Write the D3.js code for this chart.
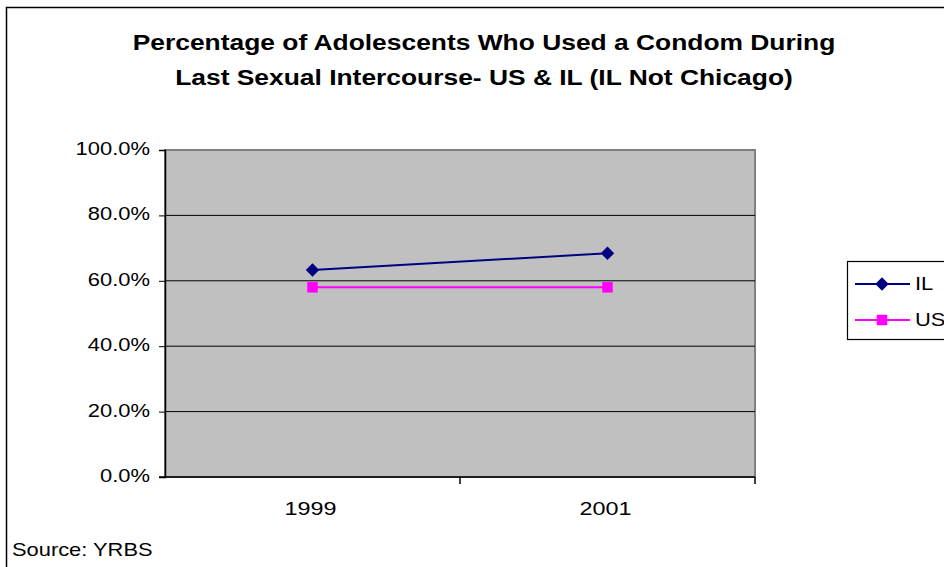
<!DOCTYPE html>
<html><head><meta charset="utf-8">
<script src="https://cdn.jsdelivr.net/npm/d3@7"></script>
<style>body{margin:0;background:#fff}svg{display:block}</style>
</head><body>
<script>
const years = ["1999", "2001"];
const ilValues = [63.3, 68.4];
const usValues = [58.0, 58.0];
const yTicks = [0, 20, 40, 60, 80, 100];
const titleLines = ["Percentage of Adolescents Who Used a Condom During", "Last Sexual Intercourse- US & IL (IL Not Chicago)"];

const W = 944, H = 567;
const svg = d3.select("body").append("svg").attr("width", W).attr("height", H);
const font = "'Liberation Sans', Arial, sans-serif";
const SX = 1.22;

// outer border
svg.append("rect").attr("x", 6.5).attr("y", 7.5).attr("width", 960).attr("height", 600)
  .attr("fill", "#fff").attr("stroke", "#000").attr("stroke-width", 1.5);

const L = 165, T = 150, R = 755, B = 477;
const x = d3.scalePoint().domain(years).range([L, R]).padding(0.5);
const y = d3.scaleLinear().domain([0, 100]).range([B, T]);

svg.append("rect").attr("x", L).attr("y", T).attr("width", R - L).attr("height", B - T)
  .attr("fill", "#c0c0c0").attr("stroke", "#808080").attr("stroke-width", 2);

// gridlines
svg.append("g").selectAll("line").data(yTicks.filter(d => d > 0 && d < 100)).join("line")
  .attr("x1", L).attr("x2", R).attr("y1", d => y(d)).attr("y2", d => y(d))
  .attr("stroke", "#000").attr("stroke-width", 1);

// y axis
const yAxis = d3.axisLeft(y).tickValues(yTicks).tickSize(6).tickFormat(d => d.toFixed(1) + "%");
const gy = svg.append("g").attr("transform", `translate(${L},0)`).call(yAxis);
gy.select(".domain").attr("stroke", "#000").attr("stroke-width", 1.5);
gy.selectAll(".tick line").attr("stroke", "#000");
gy.selectAll("text").attr("font-family", font).attr("font-size", 18).attr("fill", "#000")
  .attr("x", null).attr("dy", "0.3em").attr("transform", `translate(-15,-1) scale(${SX},1)`);

// x axis
const xb = d3.scaleLinear().domain([0, 2]).range([L, R]);
svg.append("line").attr("x1", L - 6).attr("x2", R).attr("y1", B).attr("y2", B).attr("stroke", "#000").attr("stroke-width", 1.5);
svg.append("g").selectAll("line").data([1, 2]).join("line")
  .attr("x1", d => xb(d)).attr("x2", d => xb(d)).attr("y1", B).attr("y2", B + 7).attr("stroke", "#000").attr("stroke-width", 1.5);
svg.append("g").selectAll("text").data(years).join("text")
  .attr("transform", d => `translate(${x(d) - 2},515) scale(${SX + 0.08},1)`).attr("text-anchor", "middle")
  .attr("font-family", font).attr("font-size", 18).text(d => d);

const line = d3.line().x((d, i) => x(years[i])).y(d => y(d));

// US
svg.append("path").datum(usValues).attr("d", line).attr("fill", "none").attr("stroke", "#ff00ff").attr("stroke-width", 2);
svg.append("g").selectAll("path").data(usValues).join("path")
  .attr("transform", (d, i) => `translate(${x(years[i])},${y(d)})`)
  .attr("d", d3.symbol().type(d3.symbolSquare).size(110)).attr("fill", "#ff00ff");
// IL
svg.append("path").datum(ilValues).attr("d", line).attr("fill", "none").attr("stroke", "#000080").attr("stroke-width", 2);
svg.append("g").selectAll("path").data(ilValues).join("path")
  .attr("d", d3.symbol().type(d3.symbolSquare).size(90)).attr("fill", "#000080")
  .attr("transform", (d, i) => `translate(${x(years[i])},${y(d)}) rotate(45)`);

// title
svg.append("g").selectAll("text").data(titleLines).join("text")
  .attr("transform", (d, i) => `translate(484,${49.5 + i * 35}) scale(1.2,1)`).attr("text-anchor", "middle")
  .attr("font-family", font).attr("font-size", 22).attr("font-weight", "bold").text(d => d);

// legend
const lg = svg.append("g");
lg.append("rect").attr("x", 847.5).attr("y", 261.5).attr("width", 120).attr("height", 78)
  .attr("fill", "#fff").attr("stroke", "#000").attr("stroke-width", 1.2);
const items = [{name: "IL", color: "#000080", shape: "d"}, {name: "US", color: "#ff00ff", shape: "s"}];
items.forEach((it, i) => {
  const yy = 284 + i * 36;
  lg.append("line").attr("x1", 855).attr("x2", 910).attr("y1", yy).attr("y2", yy).attr("stroke", it.color).attr("stroke-width", 2);
  lg.append("path").attr("transform", `translate(882,${yy})` + (it.shape === "d" ? " rotate(45)" : ""))
    .attr("d", d3.symbol().type(d3.symbolSquare).size(it.shape === "d" ? 90 : 110)).attr("fill", it.color);
  lg.append("text").attr("transform", `translate(915,${yy}) scale(${SX},1)`).attr("dy", "0.35em")
    .attr("font-family", font).attr("font-size", 18).text(it.name);
});

// source
svg.append("text").attr("transform", `translate(12,556) scale(1.25,1)`).attr("font-family", font).attr("font-size", 17.5).text("Source: YRBS");
</script>
</body></html>
